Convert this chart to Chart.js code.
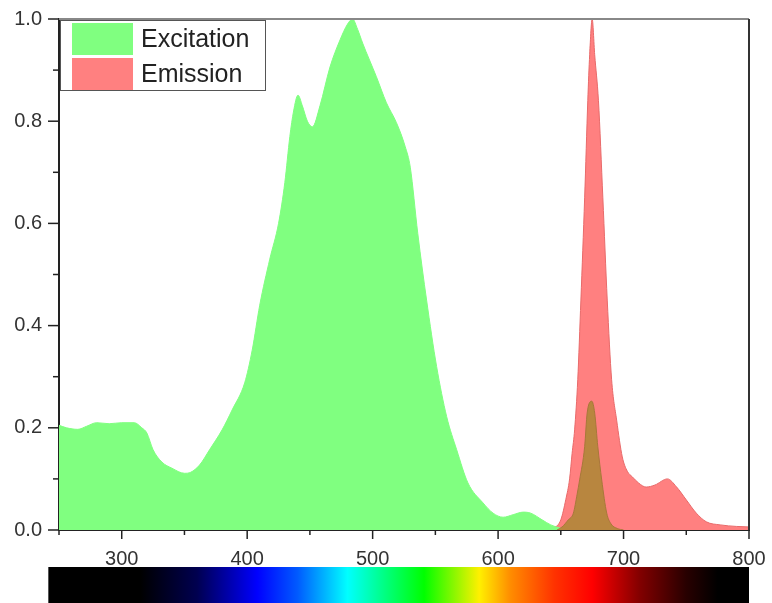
<!DOCTYPE html>
<html>
<head>
<meta charset="utf-8">
<script src="https://cdn.jsdelivr.net/npm/chart.js@4.4.1/dist/chart.umd.min.js"></script>
<style>
html, body { margin: 0; padding: 0; background: #fff; }
#wrap { position: relative; width: 772px; height: 603px; }
</style>
</head>
<body>
<div id="wrap"><canvas id="graphicSpectra"></canvas></div>
<script>
// Excitation / emission spectra, wavelength in nm

//--- Excitation (green)
const excWl = [250, 256, 265, 272, 280, 290, 300, 310, 316, 320, 325, 332, 340, 350, 355, 362, 370, 380, 388, 398,
  404, 410, 418, 425, 430, 434, 437, 440.5, 444, 448, 452, 458, 466, 474, 480, 484, 488, 492, 503, 511,
  519, 526, 530, 536, 543, 551, 559, 567, 576, 588, 596, 604, 612, 620, 626, 635, 642, 649, 655];
const excVals = [0.205, 0.200, 0.197, 0.203, 0.210, 0.208, 0.210, 0.210, 0.200, 0.190, 0.157, 0.133, 0.121, 0.111, 0.113, 0.127, 0.157, 0.196, 0.235, 0.288,
  0.352, 0.440, 0.530, 0.600, 0.680, 0.770, 0.820, 0.851, 0.830, 0.800, 0.789, 0.830, 0.906, 0.959, 0.990, 1.000, 0.980, 0.953, 0.887, 0.836,
  0.797, 0.750, 0.710, 0.580, 0.450, 0.320, 0.222, 0.157, 0.092, 0.053, 0.033, 0.025, 0.030, 0.035, 0.033, 0.020, 0.010, 0.004, 0.000];

//--- Emission (red)
const emWl = [500, 560, 620, 645, 650, 654, 657, 659, 661, 663.5, 666, 669, 671.5, 673, 675, 677, 680, 683.5, 687, 690.5,
  694.5, 699, 703, 707, 712, 718, 725, 735, 742, 750, 758, 766, 777, 790, 800];
const emVals = [0.002, 0.002, 0.003, 0.006, 0.020, 0.060, 0.100, 0.150, 0.196, 0.294, 0.450, 0.650, 0.840, 0.930, 1.000, 0.930, 0.840, 0.650, 0.450, 0.294,
  0.215, 0.143, 0.115, 0.104, 0.092, 0.084, 0.088, 0.100, 0.085, 0.059, 0.033, 0.016, 0.010, 0.007, 0.006];

//--- Overlap peak (brown)
const ovWl = [647, 651, 656, 660, 663, 665, 669, 671, 674.7, 677, 679.5, 682.6, 686.6, 690, 695, 700];
const ovVals = [0.000, 0.006, 0.020, 0.033, 0.070, 0.098, 0.163, 0.229, 0.252, 0.229, 0.163, 0.098, 0.033, 0.012, 0.003, 0.000];

//--- Colour bar under the axis
const barWl = [241.5, 315, 360, 408, 440, 480, 510, 541, 585, 610, 645, 675, 713, 750, 775, 800];
const barColors = ['#000000', '#000000', '#000050', '#0000ff', '#005aff', '#00ffff', '#00ff80', '#00ff00',
  '#fff000', '#ff8c00', '#ff3200', '#ff0000', '#820000', '#280000', '#000000', '#000000'];

const legendItems = ['Excitation', 'Emission'];
const legendColors = ['#80ff80', '#ff8080'];

function toPoints(xs, ys) {
  return xs.map(function(v, i) { return {x: v, y: ys[i]}; });
}

//--- frame + ticks
const frameTicks = {
  id: 'frameTicks',
  afterDraw(chart) {
    const {ctx, chartArea: a, scales: {x, y}} = chart;
    ctx.save();
    ctx.lineWidth = 2;
    ctx.strokeStyle = '#888';
    ctx.beginPath(); ctx.moveTo(a.left, a.top); ctx.lineTo(a.right, a.top); ctx.stroke();
    ctx.strokeStyle = '#333';
    ctx.beginPath(); ctx.moveTo(a.right, a.top); ctx.lineTo(a.right, a.bottom); ctx.stroke();

    ctx.strokeStyle = '#222';
    ctx.lineWidth = 1.5;
    x.ticks.forEach(function(t) {
      const px = x.getPixelForValue(t.value);
      const len = t.value % 100 === 0 ? 9 : 5;
      ctx.beginPath(); ctx.moveTo(px, a.bottom); ctx.lineTo(px, a.bottom + len); ctx.stroke();
    });
    y.ticks.forEach(function(t) {
      const py = y.getPixelForValue(t.value);
      const len = Math.round(t.value * 10) % 2 === 0 ? 11 : 6;
      ctx.beginPath(); ctx.moveTo(a.left, py); ctx.lineTo(a.left - len, py); ctx.stroke();
    });
    ctx.restore();
  }
};

//--- spectrum bar
const spectrumBar = {
  id: 'spectrumBar',
  afterDraw(chart) {
    const {ctx, scales: {x}} = chart;
    const x0 = x.getPixelForValue(barWl[0]);
    const x1 = x.getPixelForValue(barWl[barWl.length - 1]);
    const grad = ctx.createLinearGradient(x0, 0, x1, 0);
    barWl.forEach(function(w, i) {
      grad.addColorStop((x.getPixelForValue(w) - x0) / (x1 - x0), barColors[i]);
    });
    ctx.save();
    ctx.fillStyle = grad;
    ctx.fillRect(x0, 567, x1 - x0, chart.height - 567);
    ctx.restore();
  }
};

//--- legend box
const legendBox = {
  id: 'legendBox',
  afterDraw(chart) {
    const {ctx, chartArea: a} = chart;
    const bx = a.left + 1, by = a.top + 1, bw = 205, bh = 70;
    ctx.save();
    ctx.fillStyle = '#fff';
    ctx.fillRect(bx, by, bw, bh);
    ctx.strokeStyle = '#555';
    ctx.lineWidth = 1;
    ctx.strokeRect(bx + 0.5, by + 0.5, bw, bh);
    ctx.font = '25px "Liberation Sans", Arial, sans-serif';
    ctx.textBaseline = 'middle';
    legendItems.forEach(function(label, i) {
      const top = by + 3 + i * 35;
      ctx.fillStyle = legendColors[i];
      ctx.fillRect(bx + 12, top, 61, 32);
      ctx.fillStyle = '#222';
      ctx.fillText(label, bx + 81, top + 17);
    });
    ctx.restore();
  }
};

const ctx = document.getElementById('graphicSpectra').getContext('2d');
const chart1 = new Chart(ctx, {
  type: 'line',
  data: {
    datasets: [
      {
        label: 'Overlap',
        data: toPoints(ovWl, ovVals),
        backgroundColor: '#b8863f',
        borderColor: '#a8783a',
        borderWidth: 1,
        fill: 'origin',
        pointRadius: 0,
        cubicInterpolationMode: 'monotone',
        order: 1
      },
      {
        label: 'Excitation',
        data: toPoints(excWl, excVals),
        backgroundColor: '#80ff80',
        borderColor: '#80ff80',
        borderWidth: 1,
        fill: 'origin',
        pointRadius: 0,
        cubicInterpolationMode: 'monotone',
        order: 2
      },
      {
        label: 'Emission',
        data: toPoints(emWl, emVals),
        backgroundColor: '#ff8080',
        borderColor: '#e86a6a',
        borderWidth: 1,
        fill: 'origin',
        pointRadius: 0,
        cubicInterpolationMode: 'monotone',
        order: 3
      }
    ]
  },
  options: {
    responsive: true,
    maintainAspectRatio: false,
    animation: false,
    layout: { padding: { top: 19, right: 23, left: 0, bottom: 0 } },
    plugins: {
      legend: { display: false },
      tooltip: { enabled: false },
      title: { display: false }
    },
    scales: {
      x: {
        type: 'linear',
        min: 250,
        max: 800,
        afterFit: function(scale) {
          scale.height = 73;
          scale.paddingLeft = 0;
          scale.paddingRight = 0;
        },
        border: { display: true, color: '#222', width: 2 },
        grid: { display: false, drawTicks: false },
        ticks: {
          stepSize: 50,
          padding: 17,
          color: '#333',
          font: { family: '"Liberation Sans", Arial, sans-serif', size: 20 },
          maxRotation: 0,
          callback: function(v) { return (v % 100 === 0) ? String(v) : ''; }
        }
      },
      y: {
        min: 0,
        max: 1,
        afterFit: function(scale) {
          scale.width = 59;
          scale.paddingTop = 0;
          scale.paddingBottom = 0;
        },
        border: { display: true, color: '#222', width: 2 },
        grid: { display: false, drawTicks: false },
        ticks: {
          stepSize: 0.1,
          padding: 17,
          color: '#333',
          font: { family: '"Liberation Sans", Arial, sans-serif', size: 20 },
          callback: function(v) { return Math.round(v * 10) % 2 === 0 ? v.toFixed(1) : ''; }
        }
      }
    }
  },
  plugins: [frameTicks, spectrumBar, legendBox]
});
</script>
</body>
</html>
